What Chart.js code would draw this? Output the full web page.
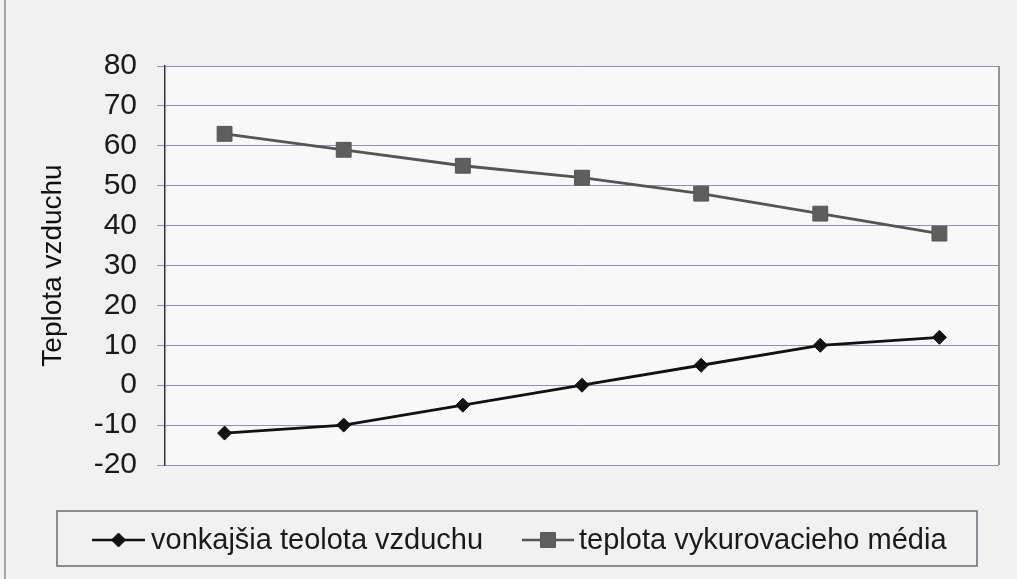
<!DOCTYPE html>
<html><head><meta charset="utf-8">
<script src="https://cdn.jsdelivr.net/npm/chart.js@4.4.0/dist/chart.umd.min.js"></script>
<style>html,body{margin:0;padding:0;background:#f1f1f1;} #wrap{width:1017px;height:579px;}</style>
</head><body><div id="wrap"><canvas id="c" width="1017" height="579"></canvas></div>
<script>
const categories = ['1','2','3','4','5','6','7'];
const outdoorTemp = [-12, -10, -5, 0, 5, 10, 12];
const heatingTemp = [63, 59, 55, 52, 48, 43, 38];
const yTicks = [-20, -10, 0, 10, 20, 30, 40, 50, 60, 70, 80];
const seriesNames = ['vonkajšia teolota vzduchu', 'teplota vykurovacieho média'];
const axisTitle = 'Teplota vzduchu';

const FONT = "'Liberation Sans', Arial, sans-serif";

const bgPlugin = {
  id: 'bg',
  beforeDraw(chart) {
    const ctx = chart.ctx, a = chart.chartArea;
    ctx.save();
    ctx.fillStyle = '#f1f1f1';
    ctx.fillRect(0, 0, chart.width, chart.height);
    ctx.fillStyle = '#f8f8f8';
    ctx.fillRect(a.left, a.top, a.right - a.left, a.bottom - a.top);
    ctx.strokeStyle = '#888';
    ctx.lineWidth = 1.5;
    ctx.beginPath(); ctx.moveTo(5, 0); ctx.lineTo(5, chart.height); ctx.stroke();
    ctx.restore();
  },
  afterDatasetsDraw(chart) {
    const ctx = chart.ctx, a = chart.chartArea;
    ctx.save();
    ctx.strokeStyle = '#777';
    ctx.lineWidth = 1.5;
    ctx.beginPath(); ctx.moveTo(a.right, a.top); ctx.lineTo(a.right, a.bottom); ctx.stroke();
    // legend
    const bx = 57, by = 511, bw = 920, bh = 55;
    ctx.strokeStyle = '#6a6a78';
    ctx.lineWidth = 1.5;
    ctx.strokeRect(bx, by, bw, bh);
    const cy = 540;
    const items = [
      {x0: 92, x1: 145, tx: 151, ds: chart.data.datasets[0]},
      {x0: 522, x1: 574, tx: 579, ds: chart.data.datasets[1]}
    ];
    items.forEach(it => {
      ctx.strokeStyle = it.ds.borderColor;
      ctx.lineWidth = 2.5;
      ctx.beginPath(); ctx.moveTo(it.x0, cy); ctx.lineTo(it.x1, cy); ctx.stroke();
      ctx.fillStyle = it.ds.pointBackgroundColor;
      ctx.strokeStyle = it.ds.pointBorderColor;
      ctx.lineWidth = 1;
      Chart.helpers.drawPoint(ctx, {pointStyle: it.ds.pointStyle, radius: it.ds.pointRadius, borderWidth: 1, rotation: 0}, (it.x0 + it.x1) / 2, cy);
      ctx.fillStyle = '#1a1a1a';
      ctx.font = '29px ' + FONT;
      ctx.textBaseline = 'middle';
      ctx.textAlign = 'left';
      ctx.fillText(it.ds.label, it.tx, cy + 1);
    });
    ctx.restore();
  }
};

new Chart(document.getElementById('c'), {
  type: 'line',
  data: {
    labels: categories,
    datasets: [
      {
        label: seriesNames[0], data: outdoorTemp,
        borderColor: '#111', borderWidth: 2.8,
        pointStyle: 'rectRot', pointRadius: 7,
        pointBackgroundColor: '#111', pointBorderColor: '#111', pointBorderWidth: 1,
        tension: 0
      },
      {
        label: seriesNames[1], data: heatingTemp,
        borderColor: '#555', borderWidth: 2.8,
        pointStyle: 'rect', pointRadius: 10.5,
        pointBackgroundColor: '#5e5e5e', pointBorderColor: '#555', pointBorderWidth: 1,
        tension: 0
      }
    ]
  },
  options: {
    responsive: false,
    animation: false,
    layout: {padding: {top: 66, right: 18, bottom: 114, left: 0}},
    plugins: {legend: {display: false}, tooltip: {enabled: false}},
    scales: {
      x: {type: 'category', display: false, offset: true},
      y: {
        min: -20, max: 80,
        afterBuildTicks(scale) { scale.ticks = yTicks.map(v => ({value: v})); },
        afterFit(scale) { scale.width = 165; },
        ticks: {font: {family: FONT, size: 30}, color: '#1a1a1a', padding: 20},
        grid: {color: '#948fb5', lineWidth: 1, tickLength: 8, drawTicks: true},
        border: {display: true, color: '#333', width: 1.5},
        title: {display: true, text: axisTitle, font: {family: FONT, size: 28}, color: '#111', padding: {top: 36, bottom: 0}}
      }
    }
  },
  plugins: [bgPlugin]
});
</script>
</body></html>
